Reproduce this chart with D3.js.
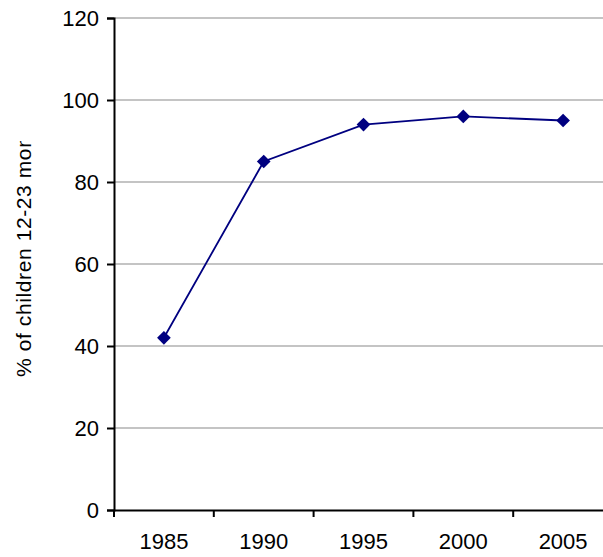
<!DOCTYPE html>
<html>
<head>
<meta charset="utf-8">
<script src="https://cdn.jsdelivr.net/npm/d3@7"></script>
<style>
  html, body { margin: 0; padding: 0; background: #fff; }
  svg { display: block; }
</style>
</head>
<body>
<script>
  // Chart values
  const years = ["1985", "1990", "1995", "2000", "2005"];
  const coverage = [42, 85, 94, 96, 95];
  const yTicks = [0, 20, 40, 60, 80, 100, 120];

  const width = 603, height = 557;
  const plotLeft = 114, plotTop = 18, plotBottom = 510;
  const plotRight = 613; // plot area runs past the right edge of the picture

  const svg = d3.select("body").append("svg")
      .attr("width", width)
      .attr("height", height)
      .attr("font-family", "'Liberation Sans', Arial, sans-serif");

  const x = d3.scaleBand().domain(years).range([plotLeft, plotRight]);
  const y = d3.scaleLinear().domain([0, 120]).range([plotBottom, plotTop]);

  // gridlines
  svg.append("g")
    .selectAll("line")
    .data(yTicks.filter(d => d > 0))
    .join("line")
      .attr("x1", plotLeft)
      .attr("x2", width)
      .attr("y1", d => y(d))
      .attr("y2", d => y(d))
      .attr("stroke", "#c4c4c4")
      .attr("stroke-width", 2);

  // y axis
  const yAxis = svg.append("g")
      .attr("transform", `translate(${plotLeft},0)`)
      .call(d3.axisLeft(y).tickValues(yTicks).tickSize(7).tickPadding(8));
  yAxis.select(".domain").attr("stroke", "#000").attr("stroke-width", 2);
  yAxis.selectAll(".tick line").attr("stroke", "#000").attr("stroke-width", 2);
  yAxis.selectAll(".tick text")
      .attr("font-size", 22)
      .attr("fill", "#000")
      .attr("dy", "0.36em");

  // x axis
  const xAxis = svg.append("g")
      .attr("transform", `translate(0,${plotBottom})`)
      .call(d3.axisBottom(x).tickSize(0).tickPadding(23));
  xAxis.select(".domain").attr("stroke", "#000").attr("stroke-width", 2);
  xAxis.selectAll(".tick text")
      .attr("font-size", 22)
      .attr("fill", "#000");

  // category separator ticks
  svg.append("g")
    .selectAll("line")
    .data(years)
    .join("line")
      .attr("x1", d => x(d))
      .attr("x2", d => x(d))
      .attr("y1", plotBottom)
      .attr("y2", plotBottom + 7)
      .attr("stroke", "#000")
      .attr("stroke-width", 2);

  // y axis title (clipped at the top, as in the source image)
  svg.append("clipPath")
      .attr("id", "titleClip")
    .append("rect")
      .attr("x", 0)
      .attr("y", 141)
      .attr("width", 60)
      .attr("height", 300);

  svg.append("g")
      .attr("clip-path", "url(#titleClip)")
    .append("text")
      .attr("transform", "translate(31,377) rotate(-90)")
      .attr("font-size", 21)
      .attr("letter-spacing", 0.6)
      .attr("fill", "#000")
      .text("% of children 12-23 months");

  // line and markers
  const cx = d => x(d) + x.bandwidth() / 2;

  svg.append("path")
      .datum(years)
      .attr("fill", "none")
      .attr("stroke", "#000080")
      .attr("stroke-width", 1.8)
      .attr("d", d3.line()
          .x(d => cx(d))
          .y((d, i) => y(coverage[i])));

  svg.append("g")
    .selectAll("path")
    .data(years)
    .join("path")
      .attr("transform", (d, i) => `translate(${cx(d)},${y(coverage[i])})`)
      .attr("d", d3.symbol().type(d3.symbolDiamond2).size(120))
      .attr("fill", "#000080");
</script>
</body>
</html>
